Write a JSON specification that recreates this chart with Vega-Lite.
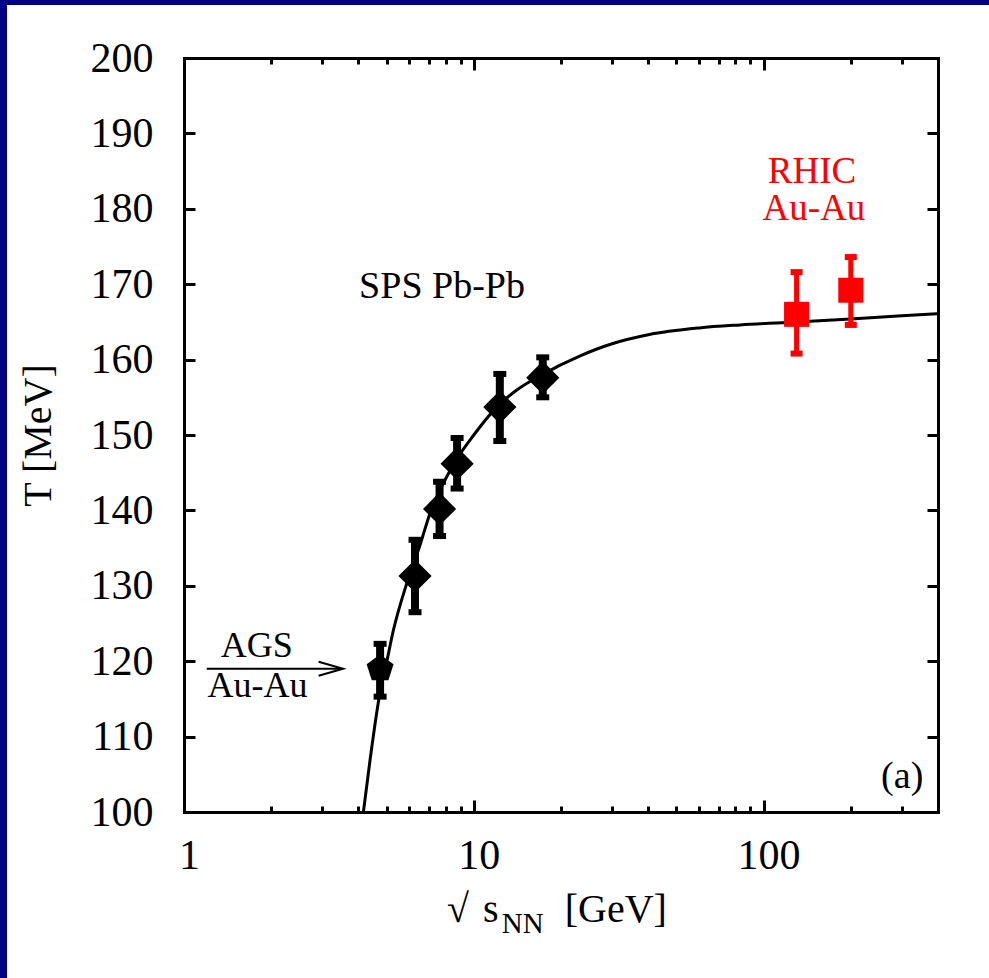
{
  "$schema": "https://vega.github.io/schema/vega-lite/v6.json",
  "width": 982,
  "height": 973,
  "autosize": {"type": "none"},
  "padding": {"left": 7, "top": 5, "right": 0, "bottom": 0},
  "background": "#000080",
  "config": {
    "view": {"fill": "white", "stroke": null},
    "font": "'Liberation Serif', 'DejaVu Serif', serif",
    "text": {"font": "'Liberation Serif', 'DejaVu Serif', serif"},
    "axis": {
      "grid": false,
      "domainColor": "black",
      "tickColor": "black",
      "labelColor": "black",
      "titleColor": "black",
      "domainWidth": 3,
      "tickWidth": 3,
      "domainCap": "square",
      "labelFont": "'Liberation Serif', 'DejaVu Serif', serif",
      "titleFont": "'Liberation Serif', 'DejaVu Serif', serif",
      "titleFontWeight": "normal",
      "labelFontSize": 42
    }
  },
  "datasets": {
    "curve": [
      {"sqrt_s": 4.16, "T": 100.0},
      {"sqrt_s": 4.4, "T": 107.3},
      {"sqrt_s": 4.72, "T": 115.3},
      {"sqrt_s": 5.0, "T": 119.8},
      {"sqrt_s": 5.28, "T": 124.1},
      {"sqrt_s": 5.87, "T": 130.3},
      {"sqrt_s": 6.5, "T": 135.2},
      {"sqrt_s": 7.06, "T": 139.6},
      {"sqrt_s": 8.0, "T": 144.2},
      {"sqrt_s": 8.6, "T": 146.4},
      {"sqrt_s": 10.0, "T": 150.0},
      {"sqrt_s": 12.0, "T": 153.7},
      {"sqrt_s": 14.0, "T": 155.9},
      {"sqrt_s": 17.2, "T": 158.0},
      {"sqrt_s": 23.3, "T": 160.5},
      {"sqrt_s": 30.0, "T": 162.1},
      {"sqrt_s": 40.0, "T": 163.3},
      {"sqrt_s": 60.0, "T": 164.2},
      {"sqrt_s": 83.0, "T": 164.6},
      {"sqrt_s": 130.0, "T": 165.0},
      {"sqrt_s": 200.0, "T": 165.4},
      {"sqrt_s": 300.0, "T": 165.8},
      {"sqrt_s": 400.0, "T": 166.1}
    ],
    "ags_sps": [
      {"system": "AGS", "sqrt_s": 4.75, "T": 119.0, "T_lo": 115.3, "T_hi": 122.3},
      {"system": "SPS", "sqrt_s": 6.27, "T": 131.3, "T_lo": 126.5, "T_hi": 136.1},
      {"system": "SPS", "sqrt_s": 7.62, "T": 140.2, "T_lo": 136.6, "T_hi": 143.8},
      {"system": "SPS", "sqrt_s": 8.76, "T": 146.2, "T_lo": 142.9, "T_hi": 149.6},
      {"system": "SPS", "sqrt_s": 12.3, "T": 153.7, "T_lo": 149.2, "T_hi": 158.1},
      {"system": "SPS", "sqrt_s": 17.3, "T": 157.6, "T_lo": 155.0, "T_hi": 160.3}
    ],
    "rhic": [
      {"system": "RHIC", "sqrt_s": 130, "T": 166.0, "T_lo": 160.8, "T_hi": 171.6},
      {"system": "RHIC", "sqrt_s": 200, "T": 169.2, "T_lo": 164.6, "T_hi": 173.6}
    ]
  },
  "layer": [
    {
      "data": {"name": "curve"},
      "mark": {"type": "line", "color": "black", "strokeWidth": 3, "interpolate": "monotone"},
      "encoding": {
        "x": {"field": "sqrt_s", "type": "quantitative",
          "scale": {"type": "log", "domain": [1, 400], "range": [177, 931], "nice": false},
          "axis": {"orient": "bottom", "offset": -166, "values": [1, 10, 100], "format": "d", "ticks": false, "domain": true,
            "labelPadding": 56, "labelBaseline": "alphabetic", "labelAlign": "center", "labelFlush": false, "labelOffset": 5, "labelOverlap": false, "title": null}},
        "y": {"field": "T", "type": "quantitative",
          "scale": {"domain": [100, 200], "range": [807, 53], "nice": false, "zero": false},
          "axis": {"orient": "left", "offset": -177, "values": [100, 110, 120, 130, 140, 150, 160, 170, 180, 190, 200], "ticks": false, "domain": true,
            "labelPadding": 31, "labelAlign": "right", "labelBaseline": "middle", "labelFlush": false, "labelOverlap": false,
            "title": "T [MeV]", "titleFontSize": 40, "titleAngle": -90, "titleX": -146, "titleY": 430, "titleAlign": "center", "titleBaseline": "middle"}}
      }
    },
    {
      "data": {"name": "ags_sps"},
      "mark": {"type": "rule", "color": "black", "strokeWidth": 8},
      "encoding": {
        "x": {"field": "sqrt_s", "type": "quantitative",
          "scale": {"type": "log", "domain": [1, 400], "range": [177, 931], "nice": false},
          "axis": {"orient": "bottom", "offset": -166, "values": [1, 10, 100], "labels": false, "domain": false, "tickSize": -12, "title": null}},
        "y": {"field": "T_lo", "type": "quantitative",
          "scale": {"domain": [100, 200], "range": [807, 53], "nice": false, "zero": false},
          "axis": {"orient": "left", "offset": -177, "values": [110, 120, 130, 140, 150, 160, 170, 180, 190], "labels": false, "domain": false, "tickSize": -11, "title": null}},
        "y2": {"field": "T_hi"}
      }
    },
    {
      "data": {"name": "ags_sps"},
      "mark": {"type": "tick", "orient": "horizontal", "color": "black", "opacity": 1, "size": 13, "thickness": 6},
      "encoding": {
        "x": {"field": "sqrt_s", "type": "quantitative",
          "scale": {"type": "log", "domain": [1, 400], "range": [177, 931], "nice": false},
          "axis": {"orient": "bottom", "offset": -166, "values": [2, 3, 4, 5, 6, 7, 8, 9, 20, 30, 40, 50, 60, 70, 80, 90, 200, 300, 400], "labels": false, "domain": false, "tickSize": -6, "title": null}},
        "y": {"field": "T_lo", "type": "quantitative",
          "scale": {"domain": [100, 200], "range": [807, 53], "nice": false, "zero": false},
          "axis": {"orient": "right", "offset": -51, "values": [110, 120, 130, 140, 150, 160, 170, 180, 190], "labels": false, "domain": true, "tickSize": -11, "title": null}}
      }
    },
    {
      "data": {"name": "ags_sps"},
      "mark": {"type": "tick", "orient": "horizontal", "color": "black", "opacity": 1, "size": 13, "thickness": 6},
      "encoding": {
        "x": {"field": "sqrt_s", "type": "quantitative",
          "scale": {"type": "log", "domain": [1, 400], "range": [177, 931], "nice": false},
          "axis": {"orient": "top", "offset": -53, "values": [1, 10, 100], "labels": false, "domain": true, "tickSize": -12, "title": null}},
        "y": {"field": "T_hi", "type": "quantitative",
          "scale": {"domain": [100, 200], "range": [807, 53], "nice": false, "zero": false}, "axis": null}
      }
    },
    {
      "data": {"name": "ags_sps"},
      "mark": {"type": "point", "filled": true, "color": "black", "opacity": 1},
      "encoding": {
        "x": {"field": "sqrt_s", "type": "quantitative",
          "scale": {"type": "log", "domain": [1, 400], "range": [177, 931], "nice": false},
          "axis": {"orient": "top", "offset": -53, "values": [2, 3, 4, 5, 6, 7, 8, 9, 20, 30, 40, 50, 60, 70, 80, 90, 200, 300, 400], "labels": false, "domain": false, "tickSize": -6, "title": null}},
        "y": {"field": "T", "type": "quantitative",
          "scale": {"domain": [100, 200], "range": [807, 53], "nice": false, "zero": false}, "axis": null},
        "shape": {"field": "system", "type": "nominal",
          "scale": {"domain": ["AGS", "SPS"], "range": ["M0,-1L0.951,-0.309L0.588,0.809L-0.588,0.809L-0.951,-0.309Z", "diamond"]}, "legend": null},
        "size": {"field": "system", "type": "ordinal",
          "scale": {"domain": ["AGS", "SPS"], "range": [800, 1100]}, "legend": null}
      }
    },
    {
      "data": {"name": "rhic"},
      "mark": {"type": "rule", "color": "#ff0000", "strokeWidth": 5},
      "encoding": {
        "x": {"field": "sqrt_s", "type": "quantitative", "scale": {"type": "log", "domain": [1, 400], "range": [177, 931], "nice": false}, "axis": null},
        "y": {"field": "T_lo", "type": "quantitative", "scale": {"domain": [100, 200], "range": [807, 53], "nice": false, "zero": false}, "axis": null},
        "y2": {"field": "T_hi"}
      }
    },
    {
      "data": {"name": "rhic"},
      "mark": {"type": "tick", "orient": "horizontal", "color": "#ff0000", "opacity": 1, "size": 12, "thickness": 6},
      "encoding": {
        "x": {"field": "sqrt_s", "type": "quantitative", "scale": {"type": "log", "domain": [1, 400], "range": [177, 931], "nice": false}, "axis": null},
        "y": {"field": "T_lo", "type": "quantitative", "scale": {"domain": [100, 200], "range": [807, 53], "nice": false, "zero": false}, "axis": null}
      }
    },
    {
      "data": {"name": "rhic"},
      "mark": {"type": "tick", "orient": "horizontal", "color": "#ff0000", "opacity": 1, "size": 12, "thickness": 6},
      "encoding": {
        "x": {"field": "sqrt_s", "type": "quantitative", "scale": {"type": "log", "domain": [1, 400], "range": [177, 931], "nice": false}, "axis": null},
        "y": {"field": "T_hi", "type": "quantitative", "scale": {"domain": [100, 200], "range": [807, 53], "nice": false, "zero": false}, "axis": null}
      }
    },
    {
      "data": {"name": "rhic"},
      "mark": {"type": "point", "shape": "square", "filled": true, "color": "#ff0000", "opacity": 1, "size": 625},
      "encoding": {
        "x": {"field": "sqrt_s", "type": "quantitative", "scale": {"type": "log", "domain": [1, 400], "range": [177, 931], "nice": false}, "axis": null},
        "y": {"field": "T", "type": "quantitative", "scale": {"domain": [100, 200], "range": [807, 53], "nice": false, "zero": false}, "axis": null}
      }
    },
    {
      "data": {"values": [{}]},
      "mark": {"type": "rule", "color": "black", "strokeWidth": 2},
      "encoding": {
        "x": {"datum": 1.198, "type": "quantitative", "scale": {"type": "log", "domain": [1, 400], "range": [177, 931], "nice": false}, "axis": null},
        "x2": {"datum": 3.5},
        "y": {"datum": 119.0, "type": "quantitative", "scale": {"domain": [100, 200], "range": [807, 53], "nice": false, "zero": false}, "axis": null}
      }
    },
    {
      "data": {"values": [{}]},
      "mark": {"type": "point", "shape": "M-3.5,-1L0,0L-3.5,1", "filled": false, "color": "black", "strokeWidth": 2, "size": 196, "opacity": 1},
      "encoding": {
        "x": {"datum": 3.54, "type": "quantitative", "scale": {"type": "log", "domain": [1, 400], "range": [177, 931], "nice": false}, "axis": null},
        "y": {"datum": 119.0, "type": "quantitative", "scale": {"domain": [100, 200], "range": [807, 53], "nice": false, "zero": false}, "axis": null}
      }
    },
    {
      "data": {"values": [{}]},
      "mark": {"type": "text", "text": "AGS", "fontSize": 36, "align": "center", "baseline": "alphabetic", "color": "black"},
      "encoding": {
        "x": {"datum": 1.782, "type": "quantitative", "scale": {"type": "log", "domain": [1, 400], "range": [177, 931], "nice": false}, "axis": null},
        "y": {"datum": 120.56, "type": "quantitative", "scale": {"domain": [100, 200], "range": [807, 53], "nice": false, "zero": false}, "axis": null}
      }
    },
    {
      "data": {"values": [{}]},
      "mark": {"type": "text", "text": "Au-Au", "fontSize": 36, "align": "center", "baseline": "alphabetic", "color": "black"},
      "encoding": {
        "x": {"datum": 1.793, "type": "quantitative", "scale": {"type": "log", "domain": [1, 400], "range": [177, 931], "nice": false}, "axis": null},
        "y": {"datum": 115.25, "type": "quantitative", "scale": {"domain": [100, 200], "range": [807, 53], "nice": false, "zero": false}, "axis": null}
      }
    },
    {
      "data": {"values": [{}]},
      "mark": {"type": "text", "text": "SPS Pb-Pb", "fontSize": 38, "align": "center", "baseline": "alphabetic", "color": "black"},
      "encoding": {
        "x": {"datum": 7.77, "type": "quantitative", "scale": {"type": "log", "domain": [1, 400], "range": [177, 931], "nice": false}, "axis": null},
        "y": {"datum": 168.2, "type": "quantitative", "scale": {"domain": [100, 200], "range": [807, 53], "nice": false, "zero": false}, "axis": null}
      }
    },
    {
      "data": {"values": [{}]},
      "mark": {"type": "text", "text": "RHIC", "fontSize": 37, "align": "center", "baseline": "alphabetic", "color": "#ff0000"},
      "encoding": {
        "x": {"datum": 146.9, "type": "quantitative", "scale": {"type": "log", "domain": [1, 400], "range": [177, 931], "nice": false}, "axis": null},
        "y": {"datum": 183.4, "type": "quantitative", "scale": {"domain": [100, 200], "range": [807, 53], "nice": false, "zero": false}, "axis": null}
      }
    },
    {
      "data": {"values": [{}]},
      "mark": {"type": "text", "text": "Au-Au", "fontSize": 37, "align": "center", "baseline": "alphabetic", "color": "#ff0000"},
      "encoding": {
        "x": {"datum": 149.3, "type": "quantitative", "scale": {"type": "log", "domain": [1, 400], "range": [177, 931], "nice": false}, "axis": null},
        "y": {"datum": 178.5, "type": "quantitative", "scale": {"domain": [100, 200], "range": [807, 53], "nice": false, "zero": false}, "axis": null}
      }
    },
    {
      "data": {"values": [{}]},
      "mark": {"type": "text", "text": "(a)", "fontSize": 38, "align": "center", "baseline": "alphabetic", "color": "black"},
      "encoding": {
        "x": {"datum": 301, "type": "quantitative", "scale": {"type": "log", "domain": [1, 400], "range": [177, 931], "nice": false}, "axis": null},
        "y": {"datum": 103.2, "type": "quantitative", "scale": {"domain": [100, 200], "range": [807, 53], "nice": false, "zero": false}, "axis": null}
      }
    },
    {
      "data": {"values": [{}]},
      "mark": {"type": "text", "text": "√", "fontSize": 40, "align": "left", "baseline": "alphabetic", "color": "black"},
      "encoding": {
        "x": {"datum": 8.08, "type": "quantitative", "scale": {"type": "log", "domain": [1, 400], "range": [177, 931], "nice": false}, "axis": null},
        "y": {"datum": 85.4, "type": "quantitative", "scale": {"domain": [100, 200], "range": [807, 53], "nice": false, "zero": false}, "axis": null}
      }
    },
    {
      "data": {"values": [{}]},
      "mark": {"type": "text", "text": "s", "fontSize": 40, "align": "left", "baseline": "alphabetic", "color": "black"},
      "encoding": {
        "x": {"datum": 10.76, "type": "quantitative", "scale": {"type": "log", "domain": [1, 400], "range": [177, 931], "nice": false}, "axis": null},
        "y": {"datum": 85.4, "type": "quantitative", "scale": {"domain": [100, 200], "range": [807, 53], "nice": false, "zero": false}, "axis": null}
      }
    },
    {
      "data": {"values": [{}]},
      "mark": {"type": "text", "text": "NN", "fontSize": 29, "align": "left", "baseline": "alphabetic", "color": "black"},
      "encoding": {
        "x": {"datum": 12.5, "type": "quantitative", "scale": {"type": "log", "domain": [1, 400], "range": [177, 931], "nice": false}, "axis": null},
        "y": {"datum": 84.0, "type": "quantitative", "scale": {"domain": [100, 200], "range": [807, 53], "nice": false, "zero": false}, "axis": null}
      }
    },
    {
      "data": {"values": [{}]},
      "mark": {"type": "text", "text": "[GeV]", "fontSize": 40, "align": "left", "baseline": "alphabetic", "color": "black"},
      "encoding": {
        "x": {"datum": 20.6, "type": "quantitative", "scale": {"type": "log", "domain": [1, 400], "range": [177, 931], "nice": false}, "axis": null},
        "y": {"datum": 85.4, "type": "quantitative", "scale": {"domain": [100, 200], "range": [807, 53], "nice": false, "zero": false}, "axis": null}
      }
    }
  ],
  "resolve": {"axis": {"x": "independent", "y": "independent"}}
}
